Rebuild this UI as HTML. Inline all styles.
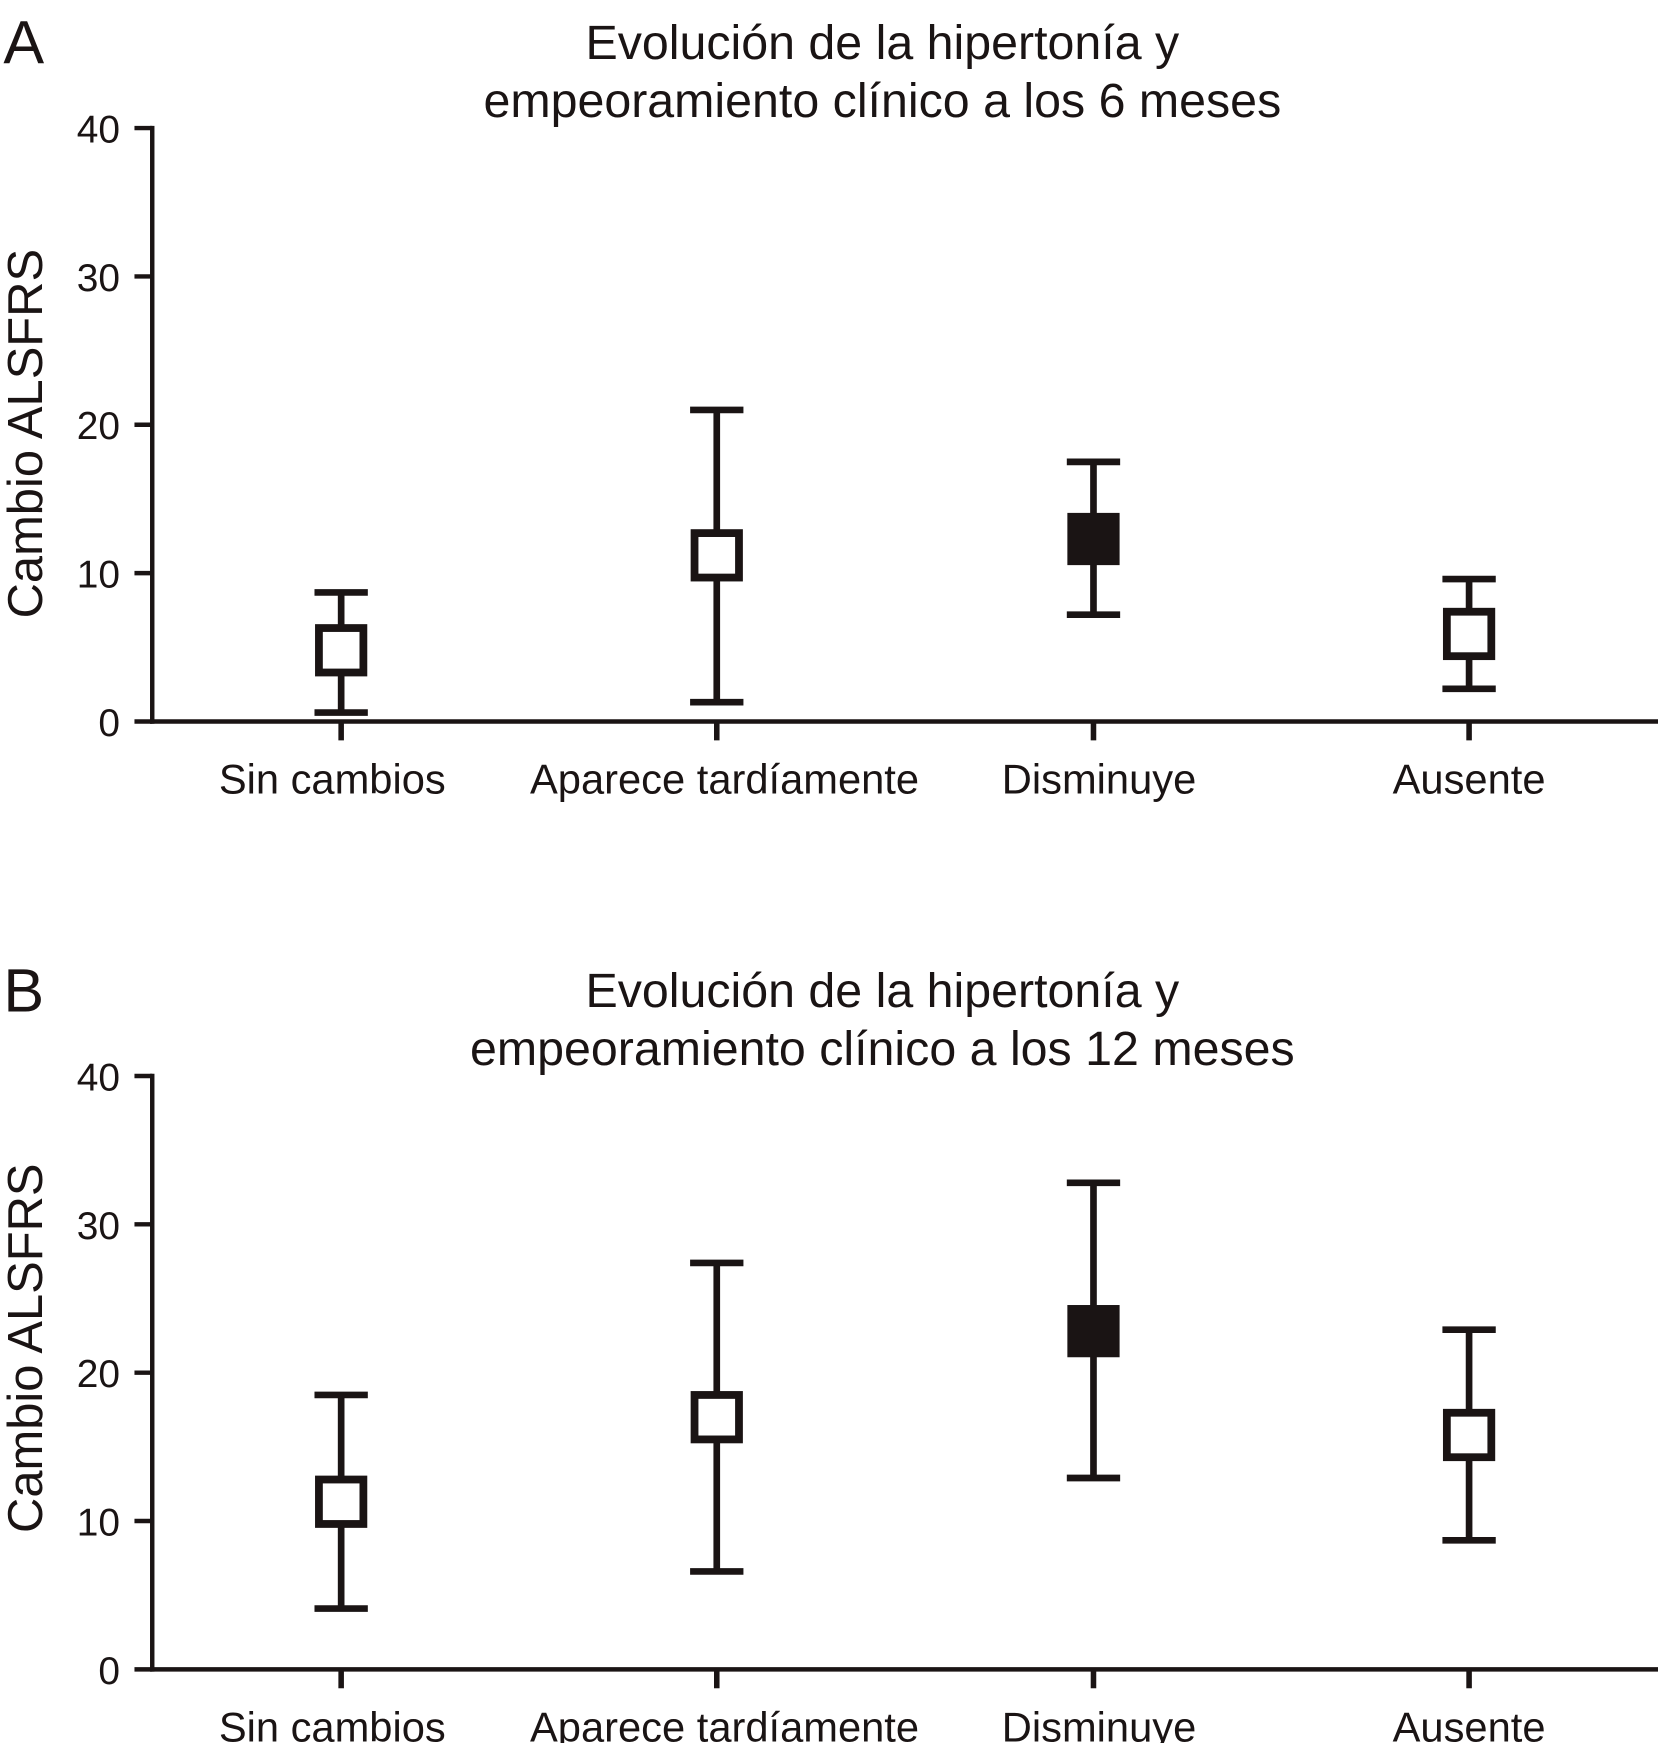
<!DOCTYPE html>
<html><head><meta charset="utf-8"><style>
html,body{margin:0;padding:0;background:#fff;}
svg{display:block;font-family:"Liberation Sans",Arial,sans-serif;}
</style></head><body>
<svg id="fig" width="1658" height="1743" viewBox="0 0 1492 1568"></svg>
<script>
const categories = ["Sin cambios","Aparece tardíamente","Disminuye","Ausente"];
const filled = [false,false,true,false];
const meanA = [4.8, 11.2, 12.3, 5.9];
const lowA = [0.6, 1.3, 7.2, 2.2];
const highA = [8.7, 21.0, 17.5, 9.6];
const meanB = [11.3, 17.0, 22.8, 15.8];
const lowB = [4.1, 6.6, 12.9, 8.7];
const highB = [18.5, 27.4, 32.8, 22.9];
const yTicks = [0,10,20,30,40];

const NS="http://www.w3.org/2000/svg";
const svg=document.getElementById('fig');
function mk(tag,attrs,parent){const e=document.createElementNS(NS,tag);for(const k in attrs)e.setAttribute(k,attrs[k]);(parent||svg).appendChild(e);return e;}
const col="#1a1414";
const catX=[307,645,984,1322];
const labelShift=[-8,7,5,0];

function panel(letter,titleLines,y0,mean,low,high,key,ytOff){
  const g=mk('g',{});
  
  
  const top=y0-534;
  const ys=v=>y0-v*(534/40);
  const L=mk('text',{x:3,y:top-58,'font-size':55,fill:col},g);L.textContent=letter;
  
  
  titleLines.forEach((t,i)=>{const e=mk('text',{x:794,y:top-62+i*52,'font-size':43.5,'text-anchor':'middle',fill:col},g);e.textContent=t;
    
    });
  const yt=mk('text',{transform:`translate(38,${ys(20)+ytOff}) rotate(-90)`,'font-size':44,'text-anchor':'middle',fill:col},g);yt.textContent="Cambio ALSFRS";
  
  
  const ya=mk('line',{x1:137,y1:top-2,x2:137,y2:y0+2,stroke:col,'stroke-width':4},g);
  
  
  const xa=mk('line',{x1:135,y1:y0,x2:1492,y2:y0,stroke:col,'stroke-width':4},g);
  
  
  yTicks.forEach(v=>{mk('line',{x1:121,y1:ys(v),x2:137,y2:ys(v),stroke:col,'stroke-width':4},g);
    const t=mk('text',{x:108,y:ys(v)+13,'font-size':35,'text-anchor':'end',fill:col},g);t.textContent=v;
    
    });
  categories.forEach((c,i)=>{
    const x=catX[i];
    mk('line',{x1:x,y1:y0,x2:x,y2:y0+17,stroke:col,'stroke-width':5},g);
    const t=mk('text',{x:x+labelShift[i],y:y0+65,'font-size':37.5,'text-anchor':'middle',fill:col},g);t.textContent=c;
    
    
    const w=mk('line',{x1:x,y1:ys(low[i]),x2:x,y2:ys(high[i]),stroke:col,'stroke-width':6},g);
    
    
    mk('line',{x1:x-24,y1:ys(low[i]),x2:x+24,y2:ys(low[i]),stroke:col,'stroke-width':6},g);
    mk('line',{x1:x-24,y1:ys(high[i]),x2:x+24,y2:ys(high[i]),stroke:col,'stroke-width':6},g);
    const r=mk('rect',{x:x-20,y:ys(mean[i])-20,width:40,height:40,fill:filled[i]?col:'#fff',stroke:col,'stroke-width':7},g);
    
    
  });
}
panel("A",["Evolución de la hipertonía y","empeoramiento clínico a los 6 meses"],649,meanA,lowA,highA,"a",8);
panel("B",["Evolución de la hipertonía y","empeoramiento clínico a los 12 meses"],1502,meanB,lowB,highB,"b",-22);
</script>
</body></html>
